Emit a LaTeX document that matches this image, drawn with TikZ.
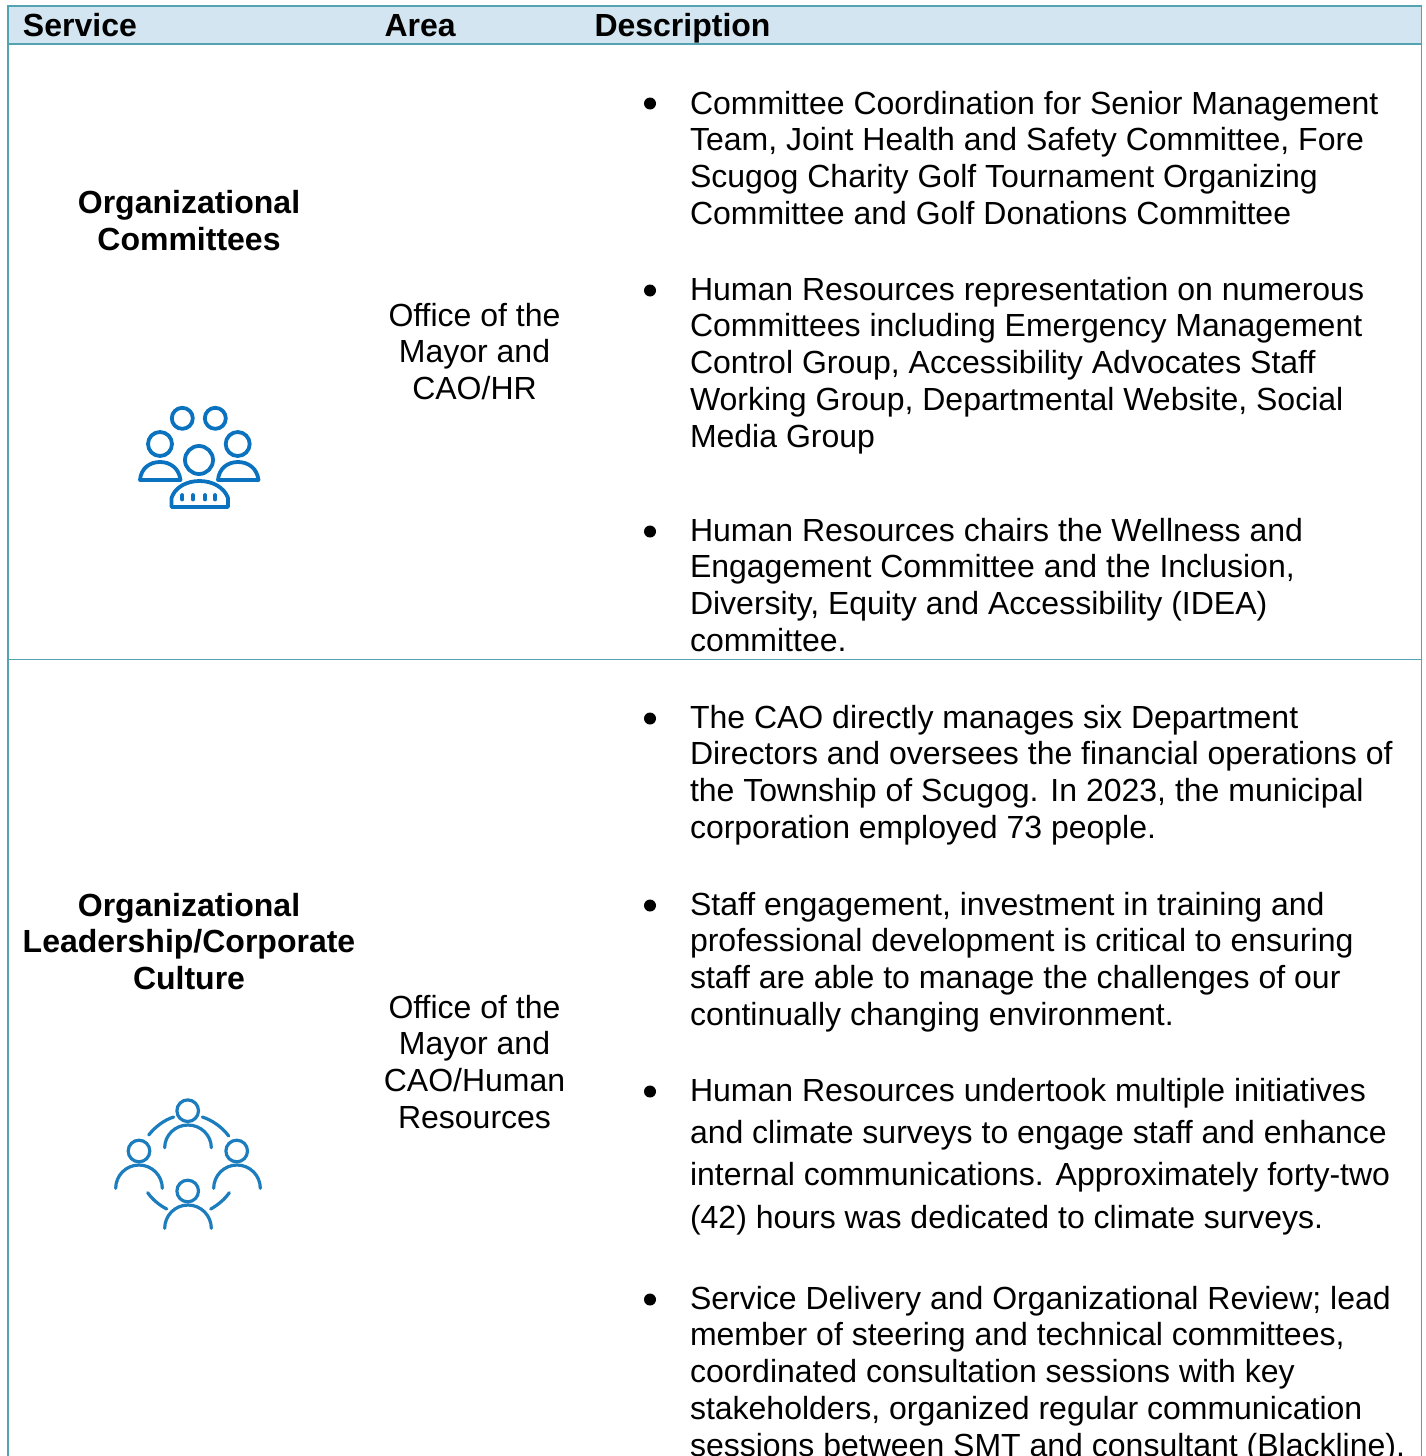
\documentclass[tikz,border=0pt]{standalone}
\usepackage{fontspec}
\setmainfont{Liberation Sans}
\newcommand{\topstrut}{\rule{0pt}{12pt}}
\tikzset{
  x=0.5pt,y=-0.5pt,
  body/.style={inner sep=0pt,outer sep=0pt,anchor=north west,align=left,font=\fontsize{16}{18.4}\selectfont},
  wide/.style={body,font=\fontsize{16}{21.2}\selectfont},
  mid/.style={inner sep=0pt,outer sep=0pt,anchor=north,align=center,font=\fontsize{16}{18.4}\selectfont},
  midb/.style={mid,font=\fontsize{16}{18.4}\selectfont\bfseries},
  head/.style={body,font=\fontsize{16}{18.4}\selectfont\bfseries},
  dot/.style={circle,fill=black,inner sep=0pt,minimum size=6pt},
  rule/.style={draw=tealline,line width=0.9pt},
  iconA/.style={draw=iconblue,line width=1.9pt,line join=round,line cap=round},
  iconB/.style={draw=iconblue2,line width=1.6pt,line cap=round},
}
\definecolor{tealline}{HTML}{54A3B2}
\definecolor{headfill}{HTML}{D2E5F1}
\definecolor{iconblue}{HTML}{0A72BE}
\definecolor{iconblue2}{HTML}{1B7CBE}
\begin{document}
\begin{tikzpicture}
\useasboundingbox (0,0) rectangle (1425,1456);
\begin{scope}
\clip (0,0) rectangle (1425,1456);
% table
\fill[headfill] (8,6) rectangle (1421.5,44);
\draw[rule] (8,1456) -- (8,6) -- (1421.5,6) -- (1421.5,1456);
\draw[rule] (8,44) -- (1421.5,44);
\draw[rule] (8,659.5) -- (1421.5,659.5);
% header
\node[head] (hservice) at (23,12) {\topstrut Service};
\node[head] (harea) at (384.5,12) {\topstrut Area};
\node[head] (hdesc) at (594.5,12) {\topstrut Description};
% service column
\node[midb] (s1) at (189,189.5) {\topstrut Organizational\\Committees};
\node[midb] (s2) at (189,892) {\topstrut Organizational\\Leadership/Corporate\\Culture};
% area column
\node[mid] (a1) at (474.5,302) {\topstrut Office of the\\Mayor and\\CAO/HR};
\node[mid] (a2) at (474.5,994) {\topstrut Office of the\\Mayor and\\CAO/Human\\Resources};
% bullets
\foreach \n/\y in {b1/103.5,b2/290.5,b3/531.5,b4/718.5,b5/905.5,b6/1091.5,b7/1299.5}
  \node[dot] (\n) at (650,\y) {};
% descriptions
\node[body] (d1) at (690,90) {\topstrut Committee Coordination for Senior Management\\Team, Joint Health and Safety Committee, Fore\\Scugog Charity Golf Tournament Organizing\\Committee and Golf Donations Committee};
\node[body] (d2) at (690,276) {\topstrut Human Resources representation on numerous\\Committees including Emergency Management\\Control Group, Accessibility Advocates Staff\\Working Group, Departmental Website, Social\\Media Group};
\node[body] (d3) at (690,517) {\topstrut Human Resources chairs the Wellness and\\Engagement Committee and the Inclusion,\\Diversity, Equity and Accessibility (IDEA)\\committee.};
\node[body] (d4) at (690,704) {\topstrut The CAO directly manages six Department\\Directors and oversees the financial operations of\\the Township of Scugog. In 2023, the municipal\\corporation employed 73 people.};
\node[body] (d5) at (690,891) {\topstrut Staff engagement, investment in training and\\professional development is critical to ensuring\\staff are able to manage the challenges of our\\continually changing environment.};
\node[wide] (d6) at (690,1077) {\topstrut Human Resources undertook multiple initiatives\\and climate surveys to engage staff and enhance\\internal communications. Approximately forty-two\\(42) hours was dedicated to climate surveys.};
\node[body] (d7) at (690,1285) {\topstrut Service Delivery and Organizational Review; lead\\member of steering and technical committees,\\coordinated consultation sessions with key\\stakeholders, organized regular communication\\sessions between SMT and consultant (Blackline).};
% icon 1
\draw[iconA] (182.3,418.3) circle[radius=10.5];
\draw[iconA] (215.3,418.3) circle[radius=10.5];
\draw[iconA] (160,444) circle[radius=12];
\draw[iconA] (237.7,444) circle[radius=12];
\draw[iconA] (199,460) circle[radius=14];
\draw[iconA] (140,480) .. controls (141,468) and (150,462) .. (160,462) .. controls (170,462) and (179,468) .. (180.5,480) -- cycle;
\draw[iconA] (218,480) .. controls (219,468) and (228,462) .. (238,462) .. controls (248,462) and (257,468) .. (258.5,480) -- cycle;
\draw[iconA] (171.5,507) -- (171.5,498) .. controls (175,487) and (187,481) .. (199.5,481) .. controls (212,481) and (224,487) .. (228,498) -- (228,507) -- cycle;
\foreach \x in {182.3,193,205,215}
  \draw[iconA] (\x,495) -- (\x,499.5);
% icon 2
\draw[iconB] (187.7,1110.7) circle[radius=10.8];
\draw[iconB] (139,1151) circle[radius=10.8];
\draw[iconB] (236.7,1151) circle[radius=10.8];
\draw[iconB] (187.7,1191) circle[radius=10.8];
\draw[iconB] (164.7,1147.7) arc[start angle=180,end angle=360,x radius=23.3,y radius=22.7];
\draw[iconB] (115.7,1188.3) arc[start angle=180,end angle=360,x radius=23.3,y radius=23.3];
\draw[iconB] (213.7,1188.3) arc[start angle=180,end angle=360,x radius=23.3,y radius=23.3];
\draw[iconB] (164.7,1228.3) arc[start angle=180,end angle=360,x radius=23.3,y radius=23.3];
\draw[iconB] (148.7,1135) .. controls (155,1127) and (164,1120) .. (173.7,1117);
\draw[iconB] (202.3,1117) .. controls (212,1120) and (222,1127) .. (228.7,1136);
\draw[iconB] (147.7,1192.7) .. controls (152,1199) and (159,1205) .. (166.7,1209);
\draw[iconB] (229.3,1192.7) .. controls (225,1199) and (218,1205) .. (210.7,1209);
\end{scope}
\end{tikzpicture}
\end{document}
